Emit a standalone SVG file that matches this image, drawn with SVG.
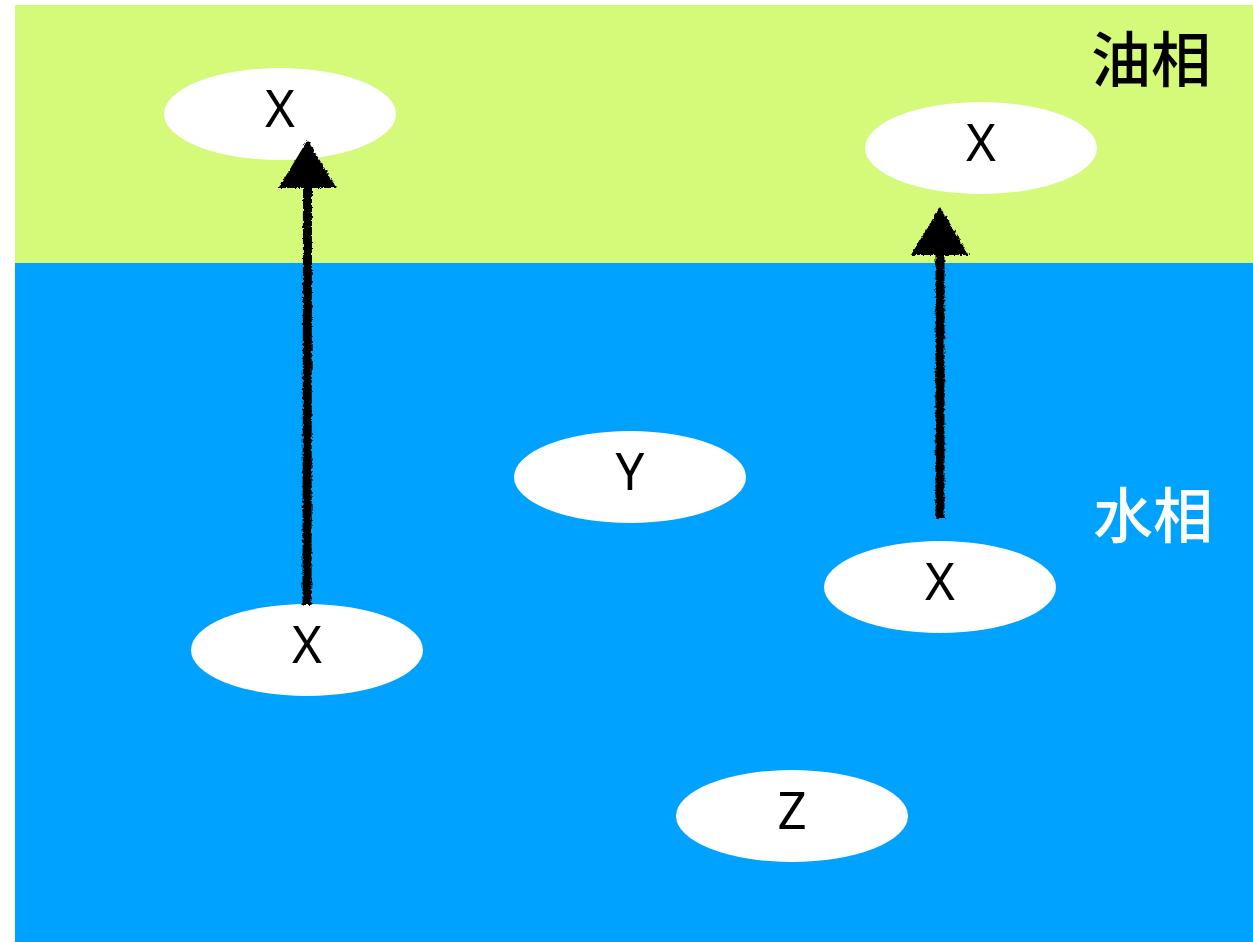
<svg xmlns="http://www.w3.org/2000/svg" width="1253" height="942" viewBox="0 0 1253 942">
<style>
.node ellipse{fill:#ffffff}
.node text{font-family:"Noto Sans","DejaVu Sans",sans-serif;font-size:51px;fill:#000;text-anchor:middle}
.phase{font-family:"Noto Sans CJK SC","Noto Sans CJK JP",sans-serif;font-size:60px;font-weight:500;text-anchor:middle;dominant-baseline:central}
.conn line{stroke:#000;stroke-width:9}
</style>
<defs>
<filter id="rough" filterUnits="userSpaceOnUse" x="0" y="0" width="1253" height="942">
<feTurbulence type="fractalNoise" baseFrequency="0.35" numOctaves="2" seed="3"/>
<feDisplacementMap in="SourceGraphic" scale="4" xChannelSelector="R" yChannelSelector="G"/>
</filter>
<marker id="ah" markerUnits="userSpaceOnUse" markerWidth="52" markerHeight="64" viewBox="0 -32 52 64" refX="0" refY="0" orient="auto">
<path d="M0,-29 L48,0 L0,29 Z" fill="#000"/>
</marker>
</defs>
<rect x="15" y="5" width="1238" height="259" fill="#d5fa7a"/>
<rect x="15" y="263" width="1238" height="679" fill="#00a2ff"/>
<text class="phase" x="1151" y="55" fill="#000">油相</text>
<text class="phase" x="1153" y="511" fill="#fff">水相</text>
<g id="x-oil-left" class="node"><ellipse cx="280" cy="114" rx="116" ry="46"/><text x="280" y="127">X</text></g>
<g id="x-oil-right" class="node"><ellipse cx="981" cy="148" rx="116" ry="46"/><text x="981" y="161">X</text></g>
<g id="y-water" class="node"><ellipse cx="630" cy="477" rx="116" ry="46"/><text x="630" y="490">Y</text></g>
<g id="x-water-left" class="node"><ellipse cx="307" cy="650" rx="116" ry="46"/><text x="307" y="663">X</text></g>
<g id="x-water-right" class="node"><ellipse cx="940" cy="587" rx="116" ry="46"/><text x="940" y="600">X</text></g>
<g id="z-water" class="node"><ellipse cx="792" cy="816" rx="116" ry="46"/><text x="792" y="829">Z</text></g>
<g id="connectors" class="conn" filter="url(#rough)">
<line x1="307" y1="605" x2="307.5" y2="188" marker-end="url(#ah)"/>
<line x1="940" y1="519" x2="940" y2="255" marker-end="url(#ah)"/>
</g>
</svg>
